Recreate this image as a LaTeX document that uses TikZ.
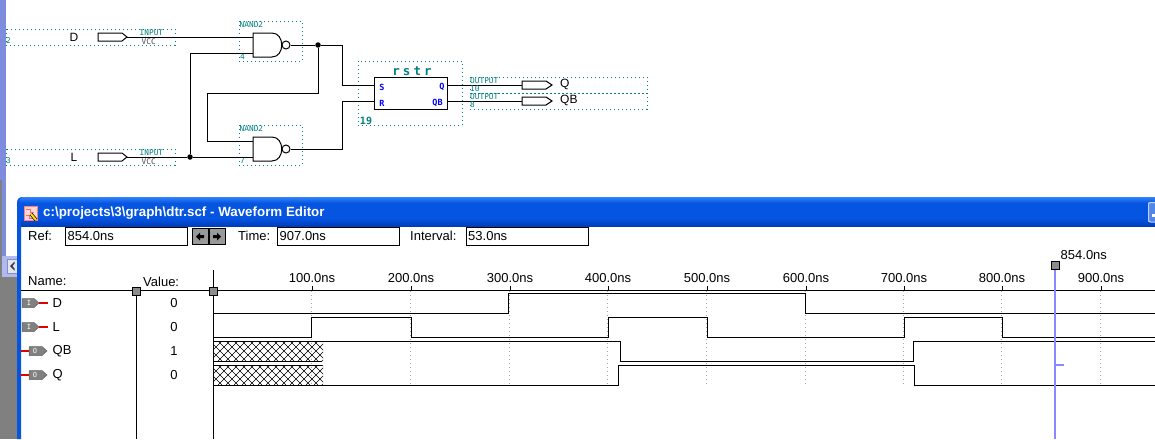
\documentclass[tikz,border=0pt]{standalone}
\usepackage{fontspec}
\setmainfont{Liberation Sans}
\newfontfamily\pixfont{DejaVu Sans Mono}
\newfontfamily\pixbold[LetterSpace=24]{DejaVu Sans Mono Bold}
\newfontfamily\blockfont{DejaVu Sans Mono Bold}
\definecolor{teal1}{RGB}{0,128,128}
\definecolor{xpblue}{RGB}{5,85,225}
\definecolor{xpdark}{RGB}{0,60,190}
\definecolor{xplight}{RGB}{50,130,250}
\definecolor{periw}{RGB}{125,140,220}
\definecolor{cursorc}{RGB}{136,136,255}
\definecolor{ledblue}{RGB}{0,0,255}
\definecolor{pingray}{RGB}{128,128,128}
\definecolor{wirered}{RGB}{224,0,0}
\tikzset{
  wire/.style={line width=1pt,black,line join=miter},
  wave/.style={line width=.95pt,black,line join=miter},
  dotbox/.style={draw=teal1,line width=1pt,dash pattern=on 1pt off 3pt},
  junct/.style={circle,fill=black,inner sep=0pt,minimum size=5.5pt},
  bubble/.style={circle,draw=black,line width=1pt,fill=white,inner sep=0pt,minimum size=8pt},
  tl/.style={text=teal1,font=\pixfont\fontsize{7.8}{8}\selectfont,inner sep=0pt,anchor=west},
  vcc/.style={text=black!70,font=\pixfont\fontsize{7.8}{8}\selectfont,inner sep=0pt,anchor=west},
  pinname/.style={text=black,font=\fontsize{12}{13}\selectfont,inner sep=0pt,anchor=west},
  ui/.style={text=black,font=\fontsize{13}{14}\selectfont,inner sep=0pt,anchor=west},
  tk/.style={text=black,font=\fontsize{13}{14}\selectfont,inner sep=0pt,anchor=center},
  field/.style={draw=black,line width=1pt,fill=white},
  handle/.style={draw=black,line width=1pt,fill=black!45,inner sep=0pt,minimum size=8pt},
  port/.style={text=ledblue,font=\blockfont\fontsize{8.5}{9}\selectfont,inner sep=0pt},
  iconbody/.style={fill=pingray,draw=black!60,line width=.5pt},
  redw/.style={line width=1.6pt,wirered},
  grid/.style={black!35,line width=.8pt,dash pattern=on 1pt off 3pt},
}
\begin{document}
\begin{tikzpicture}[x=1pt,y=-1pt]
\useasboundingbox (0,0) rectangle (1155,439);
\fill[white] (0,0) rectangle (1155,439);
% desktop strip at left
\fill[periw] (0,0) rectangle (6,277);
\fill[pingray] (0,180) rectangle (2,277);
\fill[pingray] (0,277) rectangle (17,439);
\fill[periw!60] (2,256) rectangle (17,277);
\fill[black!10,draw=periw,line width=.8pt] (7,259) rectangle (17,273);
\fill[periw!40!black] (14.5,261.5) -- (10,266) -- (14.5,270.5) -- (14.5,268.5) -- (12.5,266) -- (14.5,263.5) -- cycle;
% ---------- schematic ----------
\draw[dotbox] (6,29) rectangle (175,45);
\draw[dotbox] (6,149) rectangle (175,165);
\draw[dotbox] (239,21) rectangle (302,61);
\draw[dotbox] (239,125) rectangle (302,165);
\draw[dotbox] (358,61) rectangle (462,125);
\draw[dotbox] (470,77) rectangle (647,93);
\draw[dotbox] (470,93) rectangle (647,109);
\node[tl] (n2) at (6,41) {2};
\node[tl] (n3) at (6,161) {3};
\node[pinname] (tD) at (69.5,37) {D};
\node[pinname] (tL) at (70.5,157) {L};
\node[tl] (in1) at (139.5,33) {INPUT};
\node[vcc] (vc1) at (141.5,41.5) {VCC};
\node[tl] (in2) at (139.5,153) {INPUT};
\node[vcc] (vc2) at (141.5,161.5) {VCC};
\node[tl] (ng1) at (239.5,25) {NAND2};
\node[tl] (ng2) at (239.5,129) {NAND2};
\node[tl] (n4) at (240,57) {4};
\node[tl] (n7) at (240,161) {7};
% named connection points
\coordinate (dp) at (127,37);
\coordinate (lp) at (127,157);
\coordinate (a1) at (253,37);
\coordinate (b1) at (253,53);
\coordinate (a2) at (253,141);
\coordinate (b2) at (253,157);
\coordinate (sin) at (374,85);
\coordinate (rin) at (374,101);
\coordinate (qout) at (447,85);
\coordinate (qbout) at (447,101);
\coordinate (qpin) at (522,85);
\coordinate (qbpin) at (522,101);
\coordinate (v1) at (207,93);
% pins
\draw[wire,fill=white] (98,33) -- (122,33) -- (dp) -- (122,41) -- (98,41) -- cycle;
\draw[wire,fill=white] (98,153) -- (122,153) -- (lp) -- (122,161) -- (98,161) -- cycle;
\draw[wire,fill=white] (qpin) ++(0,-4) -- ++(24,0) -- ++(6,4) -- ++(-6,4) -- ++(-24,0) -- cycle;
\draw[wire,fill=white] (qbpin) ++(0,-4) -- ++(24,0) -- ++(6,4) -- ++(-6,4) -- ++(-24,0) -- cycle;
% gates
\draw[wire] (253,33) -- (272,33) .. controls (285,33) and (285,57) .. (272,57) -- (253,57) -- cycle;
\draw[wire] (253,137) -- (272,137) .. controls (285,137) and (285,161) .. (272,161) -- (253,161) -- cycle;
\node[bubble] (bb1) at (286,45) {};
\node[bubble] (bb2) at (286,149) {};
\node[junct] (j1) at (318,45) {};
\node[junct] (j2) at (190,157) {};
% wires
\draw[wire] (dp) -- (a1);
\draw[wire] (lp) -- (j2) -- (b2);
\draw[wire] (j2) -- (j2 |- b1) -- (b1);
\draw[wire] (bb1.east) -- (j1) -- (342,45) -- (342,85) -- (sin);
\draw[wire] (bb2.east) -- (342,149) -- (342,101) -- (rin);
\draw[wire] (j1) -- (j1 |- v1) -- (v1) -- (v1 |- a2) -- (a2);
\draw[wire] (qout) -- (qpin);
\draw[wire] (qbout) -- (qbpin);
% block
\node[draw=black,line width=1pt,fill=white,minimum width=73pt,minimum height=32pt,inner sep=0pt] (rs) at (410.5,93) {};
\node[text=teal1,inner sep=0pt,font=\pixbold\fontsize{12.5}{13}\selectfont] (rt) at (412,71) {rstr};
\node[port] (ps) at (382,87) {S};
\node[port] (pr) at (382,103) {R};
\node[port] (pq) at (442,87) {Q};
\node[port] (pqb) at (437.5,103) {QB};
\node[text=teal1,inner sep=0pt,font=\blockfont\fontsize{10}{10}\selectfont] (n19) at (366,121) {19};
\node[tl] (o1) at (470,81) {OUTPUT};
\node[tl] (o1n) at (470,89) {10};
\node[tl] (o2) at (470,97) {OUTPUT};
\node[tl] (o2n) at (470,105) {8};
\node[pinname] (tQ) at (560,84.5) {Q};
\node[pinname] (tQB) at (560,100.5) {QB};
% ---------- window ----------
\fill[xpblue] (17,439) -- (17,203) .. controls (17,199) and (19,197) .. (23,197) -- (1155,197) -- (1155,226) -- (21,226) -- (21,439) -- cycle;
\shade[top color=xplight,bottom color=xpblue] (23,197) -- (1155,197) -- (1155,203) -- (19,203) .. controls (19,200) and (20,197) .. (23,197);
\shade[top color=xpblue,bottom color=xpdark] (21,218) rectangle (1155,226);
\fill[xpblue!70] (1148,202) rectangle (1155,222);
\draw[white!80!blue,line width=1pt,rounded corners=2pt] (1156,202.5) -- (1148.5,202.5) -- (1148.5,222) -- (1156,222);
\fill[white] (1152,214) rectangle (1155,217);
% title icon
\fill[white!85!red,draw=red!50!white,line width=.6pt] (24,206) rectangle (37,220);
\draw[red!60!white,line width=.8pt] (26,209) -- (30,209) -- (30,212) -- (34,212) (26,215) -- (29,215) -- (29,218) -- (33,218);
\draw[black,line width=3.4pt] (31,214) -- (36,220);
\draw[yellow!85!orange,line width=2pt] (31,214) -- (36,220);
\node[text=white,font=\bfseries\fontsize{13.35}{14}\selectfont,inner sep=0pt,anchor=west] (title) at (43,213) {c:\textbackslash projects\textbackslash 3\textbackslash graph\textbackslash dtr.scf - Waveform Editor};
% top fields
\node[ui] (lref) at (28,236) {Ref:};
\node[field,minimum width=122pt,minimum height=18pt,inner sep=0pt] (fref) at (126,236) {};
\node[ui] (vref) at (67.5,236) {854.0ns};
\node[draw=black,fill=black!40,line width=1pt,minimum width=16pt,minimum height=16pt,inner sep=0pt] (bl) at (200,236.5) {};
\node[draw=black,fill=black!40,line width=1pt,minimum width=16pt,minimum height=16pt,inner sep=0pt] (br) at (217,236.5) {};
\fill[black] (196,236.5) -- (200,232.5) -- (200,235) -- (204,235) -- (204,238) -- (200,238) -- (200,240.5) -- cycle;
\fill[black] (221,236.5) -- (217,232.5) -- (217,235) -- (213,235) -- (213,238) -- (217,238) -- (217,240.5) -- cycle;
\node[ui] (ltime) at (238,236) {Time:};
\node[field,minimum width=122pt,minimum height=18pt,inner sep=0pt] (ftime) at (338,236) {};
\node[ui] (vtime) at (279.5,236) {907.0ns};
\node[ui] (lint) at (410,236) {Interval:};
\node[field,minimum width=122pt,minimum height=18pt,inner sep=0pt] (fint) at (527,236) {};
\node[ui] (vint) at (468,236) {53.0ns};
% header
\node[ui] (lname) at (28,281.5) {Name:};
\node[ui] (lval) at (143,281.5) {Value:};
\coordinate (h0) at (21,290);
\coordinate (h1) at (1155,290);
% grid and ticks
\foreach \t/\x/\lab in {1/312/100.0ns,2/411/200.0ns,3/510/300.0ns,4/608/400.0ns,5/707/500.0ns,6/806/600.0ns,7/904/700.0ns,8/1002/800.0ns,9/1101/900.0ns}{
  \draw[grid] (\x-1,291) -- (\x-1,385);
  \draw[black,line width=1pt] (\x,286) -- (\x,290);
  \node[tk] (tick\t) at (\x,278) {\lab};
}
\draw[black,line width=1pt] (h0) -- (h1);
\draw[black,line width=1pt] (136,290) -- (136,439);
\draw[black,line width=1pt] (213,270) -- (213,439);
% signal rows
\foreach \n/\y/\txt/\v in {a/303/D/0,b/327/L/0}{
  \draw[iconbody] (22,\y-4.5) -- (34,\y-4.5) -- (39,\y) -- (34,\y+4.5) -- (22,\y+4.5) -- cycle;
  \node[text=white,inner sep=0pt,font=\pixfont\fontsize{7}{7}\selectfont] (ic\n) at (29,\y) {I};
  \draw[redw] (39,\y) -- (48,\y);
  \node[ui] (nm\n) at (52.5,\y) {\txt};
  \node[tk] (vl\n) at (174,\y) {\v};
}
\foreach \n/\y/\txt/\v in {c/351/QB/1,d/375/Q/0}{
  \draw[iconbody] (29,\y-4.5) -- (42,\y-4.5) -- (47,\y) -- (42,\y+4.5) -- (29,\y+4.5) -- cycle;
  \node[text=white,inner sep=0pt,font=\pixfont\fontsize{7}{7}\selectfont] (ic\n) at (35,\y) {O};
  \draw[redw] (21,\y) -- (29,\y);
  \node[ui] (nm\n) at (52.5,\y) {\txt};
  \node[tk] (vl\n) at (174,\y) {\v};
}
% waveforms
\draw[wave] (213,313) -- (508,313) -- (508,293) -- (805,293) -- (805,313) -- (1155,313);
\draw[wave] (213,337) -- (311,337) -- (311,317) -- (411,317) -- (411,337) -- (608,337) -- (608,317) -- (707,317) -- (707,337) -- (904,337) -- (904,317) -- (1002,317) -- (1002,337) -- (1155,337);
\draw[wave] (213,341) -- (620.5,341) -- (620.5,361) -- (913.5,361) -- (913.5,341) -- (1155,341);
\draw[wave] (213,385) -- (618,385) -- (618,365) -- (914.5,365) -- (914.5,385) -- (1155,385);
\draw[wave] (213,361) -- (322,361);
\draw[wave] (213,365) -- (322,365);
% hatching
\foreach \yt in {341,365}{
  \begin{scope}
    \clip (214,\yt) rectangle (323,\yt+20);
    \foreach \i in {0,8,...,136}{
      \draw[black,line width=.6pt] (194+\i,\yt+20) -- (214+\i,\yt);
      \draw[black,line width=.6pt] (194+\i,\yt) -- (214+\i,\yt+20);
    }
  \end{scope}
}
% cursor
\node[handle] (hn1) at (136,291.5) {};
\node[handle] (hn2) at (213,291.5) {};
\node[handle] (hn3) at (1055,265.5) {};
\coordinate (cb) at (1055,439);
\draw[cursorc,line width=2pt] (hn3.south) -- (cb);
\draw[cursorc,line width=1.2pt] (1055,365) -- (1064,365);
\node[ui] (lcur) at (1060.5,255.5) {854.0ns};
\end{tikzpicture}
\end{document}
